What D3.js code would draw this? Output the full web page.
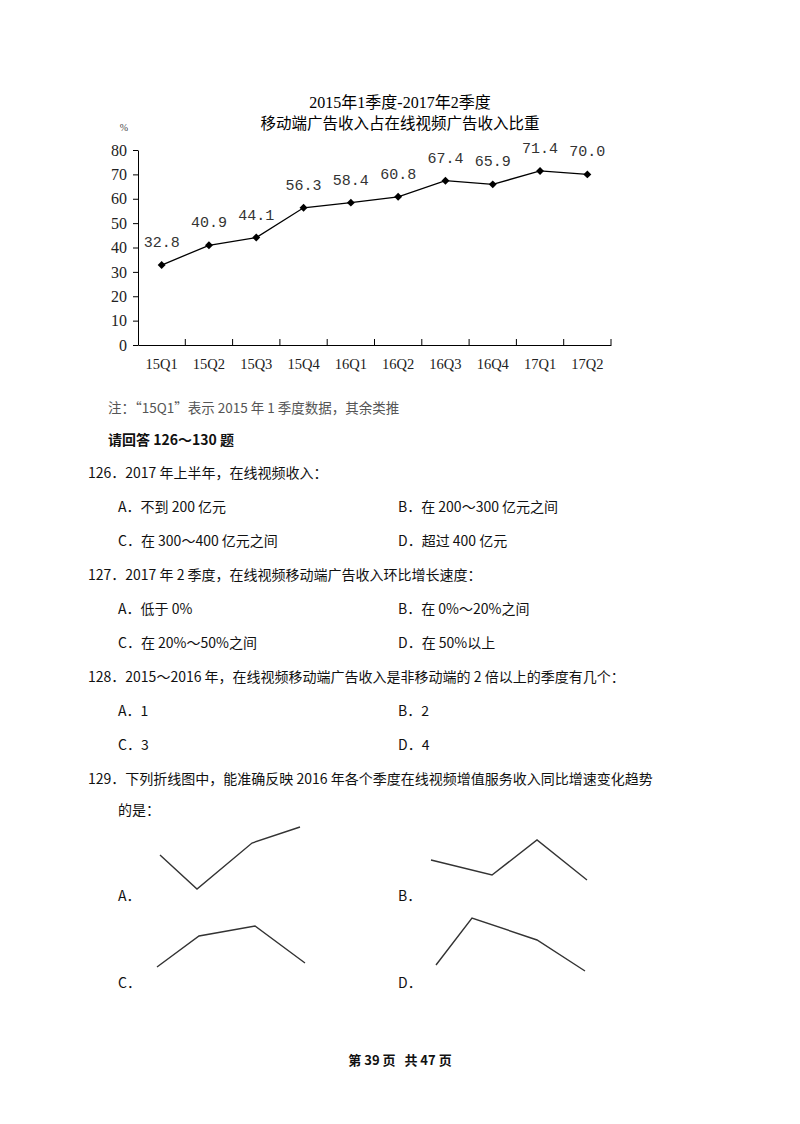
<!DOCTYPE html>
<html><head><meta charset="utf-8">
<script src="https://d3js.org/d3.v7.min.js"></script>
<style>body{margin:0;background:#fff}</style></head>
<body><svg id="c" width="800" height="1124"></svg>
<script>
const categories=["15Q1","15Q2","15Q3","15Q4","16Q1","16Q2","16Q3","16Q4","17Q1","17Q2"];
const values=[32.8,40.9,44.1,56.3,58.4,60.8,67.4,65.9,71.4,70.0];
const yTicks=[0,10,20,30,40,50,60,70,80];
const sketchA=[[0,34],[37,0],[92,46],[140,62]];
const sketchB=[[0,29],[61,14],[106,49],[156,9]];
const sketchC=[[0,4],[42,35],[98,45],[148,8]];
const sketchD=[[0,6],[36,53],[101,31],[149,0]];

const svg=d3.select("#c");
const cjk="'Noto Sans CJK SC',sans-serif";
const serif="'Liberation Serif','Noto Sans CJK SC',serif";
const x=d3.scaleBand().domain(categories).range([138,611]);
const y=d3.scaleLinear().domain([0,80]).range([345,150]);

svg.append("text").attr("x",400).attr("y",108).attr("text-anchor","middle").attr("font-family",serif).attr("font-size",16).text("2015年1季度-2017年2季度");
svg.append("text").attr("x",400).attr("y",129).attr("text-anchor","middle").attr("font-family",cjk).attr("font-size",15.5).text("移动端广告收入占在线视频广告收入比重");
svg.append("text").attr("x",124).attr("y",131).attr("text-anchor","middle").attr("font-family",serif).attr("font-size",10).attr("fill","#444").text("%");

const ya=svg.append("g").attr("transform","translate(138,0)").call(d3.axisLeft(y).tickValues(yTicks).tickSize(5).tickSizeOuter(0).tickPadding(6));
ya.selectAll("text").attr("font-family",serif).attr("font-size",16).attr("fill","#222");
const xa=svg.append("g").attr("transform","translate(0,345)").call(d3.axisBottom(x).tickSize(0).tickSizeOuter(0).tickPadding(14));
xa.selectAll("text").attr("font-family",serif).attr("font-size",14.5).attr("fill","#222");
xa.selectAll(".b").data(categories.slice(1).concat(["end"])).enter().append("line")
 .attr("x1",(d,i)=>x.range()[0]+x.step()*(i+1)).attr("x2",(d,i)=>x.range()[0]+x.step()*(i+1))
 .attr("y1",0).attr("y2",-6).attr("stroke","#000");
svg.selectAll(".domain").attr("stroke","#000");

const cx=d=>x(d)+x.bandwidth()/2;
svg.append("path").datum(values).attr("fill","none").attr("stroke","#000").attr("stroke-width",1.3)
 .attr("d",d3.line().x((d,i)=>cx(categories[i])).y(d=>y(d)));
svg.selectAll(".m").data(values).enter().append("path")
 .attr("d",d3.symbol(d3.symbolDiamond2,40)).attr("transform",(d,i)=>`translate(${cx(categories[i])},${y(d)})`).attr("fill","#000");
svg.selectAll(".l").data(values).enter().append("text")
 .attr("x",(d,i)=>cx(categories[i])).attr("y",d=>y(d)-18)
 .attr("text-anchor","middle").attr("font-family","'Liberation Mono',monospace").attr("font-size",15).attr("fill","#333")
 .text(d=>d.toFixed(1));

function t(xp,yp,s,opt={}){return svg.append("text").attr("x",xp).attr("y",yp).attr("font-family",opt.f||cjk).attr("font-size",opt.s||14).attr("font-weight",opt.w||"normal").attr("fill",opt.c||"#111").attr("text-anchor",opt.a||"start").style("white-space","pre").text(s);}
t(108,413,"注：“15Q1”表示 2015 年 1 季度数据，其余类推",{c:"#555",s:13.5});
t(108,445,"请回答 126～130 题",{w:"bold"});
t(88,478,"126．2017 年上半年，在线视频收入：");
t(118,512,"A．不到 200 亿元");t(398,512,"B．在 200～300 亿元之间");
t(118,546,"C．在 300～400 亿元之间");t(398,546,"D．超过 400 亿元");
t(88,580,"127．2017 年 2 季度，在线视频移动端广告收入环比增长速度：");
t(118,614,"A．低于 0%");t(398,614,"B．在 0%～20%之间");
t(118,648,"C．在 20%～50%之间");t(398,648,"D．在 50%以上");
t(88,682,"128．2015～2016 年，在线视频移动端广告收入是非移动端的 2 倍以上的季度有几个：");
t(118,716,"A．1");t(398,716,"B．2");
t(118,750,"C．3");t(398,750,"D．4");
t(88,784,"129．下列折线图中，能准确反映 2016 年各个季度在线视频增值服务收入同比增速变化趋势");
t(118,815,"的是：");
t(118,901,"A．");t(398,901,"B．");t(118,988,"C．");t(398,988,"D．");
const sk=[[sketchA,160,889],[sketchB,431,889],[sketchC,157,971],[sketchD,436,971]];
const sx=d3.scaleLinear().domain([0,1]).range([0,1]);
sk.forEach(([pts,ox,oy])=>{
 svg.append("path").datum(pts).attr("fill","none").attr("stroke","#333").attr("stroke-width",1.4)
  .attr("d",d3.line().x(d=>ox+sx(d[0])).y(d=>oy-sx(d[1])));
});
t(400,1065,"第 39 页   共 47 页",{w:"bold",a:"middle",s:13});
</script></body></html>
